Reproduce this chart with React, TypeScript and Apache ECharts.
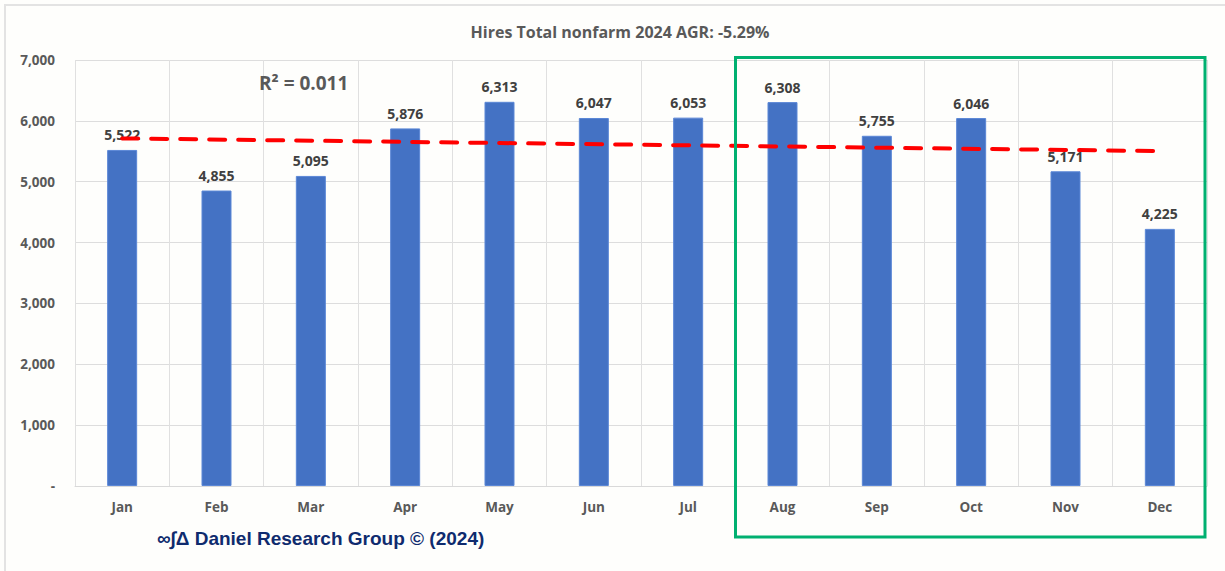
import React, { useEffect, useRef } from "react";
import * as echarts from "echarts";

const months = ["Jan", "Feb", "Mar", "Apr", "May", "Jun", "Jul", "Aug", "Sep", "Oct", "Nov", "Dec"];
const hires = [5522, 4855, 5095, 5876, 6313, 6047, 6053, 6308, 5755, 6046, 5171, 4225];
const trendJan = 5712;
const trendDec = 5503;
const titleText = "Hires Total nonfarm 2024 AGR: -5.29%";
const r2Text = "R² = 0.011";
const footerText = "∞∫Δ Daniel Research Group © (2024)";

export default function App() {
  const ref = useRef<HTMLDivElement>(null);
  useEffect(() => {
    if (!ref.current) return;
    const chart = echarts.init(ref.current, null, { renderer: "svg" });
    const font = "'Open Sans', 'Noto Sans', sans-serif";
    chart.setOption({
      animation: false,
      backgroundColor: "#FEFEFC",
      title: {
        text: titleText,
        left: 615,
        top: 19,
        textAlign: "center",
        textStyle: { fontFamily: font, fontSize: 16, fontWeight: "bold", color: "#595959" },
      },
      grid: { left: 75, top: 60, width: 1132, height: 426, containLabel: false },
      xAxis: {
        type: "category",
        data: months,
        axisLine: { show: true, lineStyle: { color: "#D9D9D9", width: 1 } },
        axisTick: { show: false },
        splitLine: { show: true, lineStyle: { color: "#E0E0E0", width: 1 } },
        axisLabel: { margin: 14, fontFamily: font, fontSize: 13.5, fontWeight: "bold", color: "#595959" },
      },
      yAxis: {
        type: "value",
        min: 0,
        max: 7000,
        interval: 1000,
        axisLine: { show: false },
        axisTick: { show: false },
        splitLine: { show: true, lineStyle: { color: "#DDDDDD", width: 1 } },
        axisLabel: {
          margin: 20,
          fontFamily: font,
          fontSize: 13.5,
          fontWeight: "bold",
          color: "#595959",
          formatter: (v: number) => (v === 0 ? "-" : v.toLocaleString("en-US")),
        },
      },
      series: [
        {
          type: "bar",
          data: hires,
          barWidth: 30,
          itemStyle: { color: "#4472C4", borderColor: "#5B87D6", borderWidth: 1 },
          label: {
            show: true,
            position: "top",
            distance: 8,
            fontFamily: font,
            fontSize: 14,
            fontWeight: "bold",
            color: "#404040",
            formatter: (p: any) => Number(p.value).toLocaleString("en-US"),
          },
          markLine: {
            silent: true,
            symbol: "none",
            label: { show: false },
            lineStyle: { color: "#FF0000", width: 4, type: [16, 13], cap: "round" },
            data: [[{ coord: [months[0], trendJan] }, { coord: [months[11], trendDec] }]],
          },
          z: 2,
        },
      ],
      graphic: [
        {
          type: "rect",
          shape: { x: 5, y: 5, width: 1300, height: 700 },
          style: { fill: "none", stroke: "#E3E3E3", lineWidth: 2 },
          silent: true,
          z: 0,
        },
        {
          type: "text",
          left: 259,
          top: 73,
          style: { text: r2Text, font: `bold 19px ${font}`, fill: "#595959" },
          z: 10,
        },
        {
          type: "rect",
          shape: { x: 735.5, y: 57.5, width: 1205 - 735.5, height: 537 - 57.5 },
          style: { fill: "none", stroke: "#00B070", lineWidth: 3 },
          silent: true,
          z: 10,
        },
        {
          type: "text",
          left: 157,
          top: 529,
          style: {
            text: footerText,
            font: "bold 19px 'Liberation Sans', Arial, sans-serif",
            fill: "#0F2B6E",
          },
          z: 10,
        },
      ],
    });
    return () => chart.dispose();
  }, []);
  return (
    <div
      ref={ref}
      style={{ position: "fixed", left: 0, top: 0, width: 1225, height: 571 }}
    />
  );
}
